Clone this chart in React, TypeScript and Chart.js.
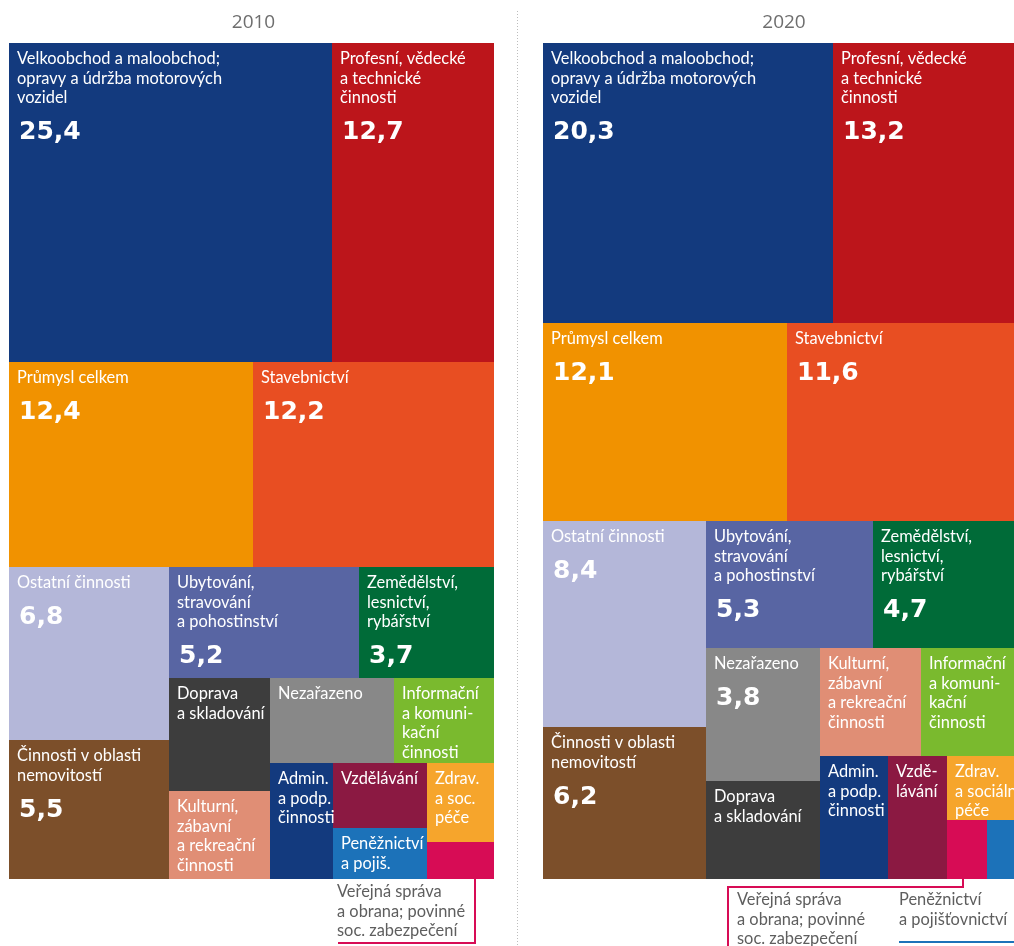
import React, { useEffect, useRef } from "react";
import { Chart, registerables } from "chart.js";
Chart.register(...registerables);

// ---------- DATA ----------
const categories = [
  "Velkoobchod a maloobchod; opravy a údržba motorových vozidel",
  "Profesní, vědecké a technické činnosti",
  "Průmysl celkem",
  "Stavebnictví",
  "Ostatní činnosti",
  "Činnosti v oblasti nemovitostí",
  "Ubytování, stravování a pohostinství",
  "Zemědělství, lesnictví, rybářství",
  "Doprava a skladování",
  "Nezařazeno",
  "Informační a komunikační činnosti",
  "Kulturní, zábavní a rekreační činnosti",
  "Administrativní a podpůrné činnosti",
  "Vzdělávání",
  "Zdravotní a sociální péče",
  "Peněžnictví a pojišťovnictví",
  "Veřejná správa a obrana; povinné sociální zabezpečení",
];

const years = ["2010", "2020"];

const values2010 = [25.4, 12.7, 12.4, 12.2, 6.8, 5.5, 5.2, 3.7, 2.8, 2.6, 2.1, 2.2, 1.8, 1.5, 1.3, 1.2, 0.6];
const values2020 = [20.3, 13.2, 12.1, 11.6, 8.4, 6.2, 5.3, 4.7, 2.8, 3.8, 2.7, 2.7, 2.1, 1.8, 1.2, 0.5, 0.6];

const colors = [
  "#133a7e", "#bc151b", "#f19200", "#e84e22", "#b4b7d9", "#7c4f2a",
  "#5865a3", "#006b38", "#3d3d3d", "#888888", "#7aba2e", "#e08e75",
  "#133a7e", "#8b1942", "#f6a52c", "#1c72b9", "#d70c55",
];

const labels2010 = [
  "Velkoobchod a maloobchod;\nopravy a údržba motorových\nvozidel",
  "Profesní, vědecké\na technické\nčinnosti",
  "Průmysl celkem",
  "Stavebnictví",
  "Ostatní činnosti",
  "Činnosti v oblasti\nnemovitostí",
  "Ubytování,\nstravování\na pohostinství",
  "Zemědělství,\nlesnictví,\nrybářství",
  "Doprava\na skladování",
  "Nezařazeno",
  "Informační\na komuni-\nkační\nčinnosti",
  "Kulturní,\nzábavní\na rekreační\nčinnosti",
  "Admin.\na podp.\nčinnosti",
  "Vzdělávání",
  "Zdrav.\na soc.\npéče",
  "Peněžnictví\na pojiš.",
  "",
];

const labels2020 = [
  "Velkoobchod a maloobchod;\nopravy a údržba motorových\nvozidel",
  "Profesní, vědecké\na technické\nčinnosti",
  "Průmysl celkem",
  "Stavebnictví",
  "Ostatní činnosti",
  "Činnosti v oblasti\nnemovitostí",
  "Ubytování,\nstravování\na pohostinství",
  "Zemědělství,\nlesnictví,\nrybářství",
  "Doprava\na skladování",
  "Nezařazeno",
  "Informační\na komuni-\nkační\nčinnosti",
  "Kulturní,\nzábavní\na rekreační\nčinnosti",
  "Admin.\na podp.\nčinnosti",
  "Vzdě-\nlávání",
  "Zdrav.\na sociální\npéče",
  "",
  "",
];

const calloutText2010 = ["Veřejná správa\na obrana; povinné\nsoc. zabezpečení"];
const calloutText2020 = ["Veřejná správa\na obrana; povinné\nsoc. zabezpečení", "Peněžnictví\na pojišťovnictví"];

const VALUE_LABEL_MIN = 3.5;

// ---------- LAYOUT TREE (split structure, sizes come from values) ----------
type Tree = number | { dir: "h" | "v"; children: Tree[] };
const H = (...children: Tree[]): Tree => ({ dir: "h", children });
const V = (...children: Tree[]): Tree => ({ dir: "v", children });

const tree2010 = V(
  H(0, 1),
  H(2, 3),
  H(V(4, 5), V(H(6, 7), H(V(8, 11), V(H(9, 10), H(12, V(13, 15), V(14, 16))))))
);
const tree2020 = V(
  H(0, 1),
  H(2, 3),
  H(V(4, 5), V(H(6, 7), H(V(9, 8), V(H(11, 10), H(12, 13, V(14, H(16, 15)))))))
);

function sumTree(t: Tree, values: number[]): number {
  return typeof t === "number" ? values[t] : t.children.reduce((s, c) => s + sumTree(c, values), 0);
}

type R = { x: number; y: number; w: number; h: number };
function layoutTree(t: Tree, values: number[], x: number, y: number, w: number, h: number, out: R[]) {
  if (typeof t === "number") {
    out[t] = { x, y, w, h };
    return;
  }
  const total = sumTree(t, values);
  let off = 0;
  for (const c of t.children) {
    const f = sumTree(c, values) / total;
    if (t.dir === "h") layoutTree(c, values, x + off * w, y, f * w, h, out);
    else layoutTree(c, values, x, y + off * h, w, f * h, out);
    off += f;
  }
}

// ---------- STYLE ----------
const LABEL_FONT = '16.4px Lato, "Noto Sans", sans-serif';
const VALUE_FONT = 'bold 25px "DejaVu Sans", Verdana, sans-serif';
const TITLE_FONT = '19px "Open Sans", "Noto Sans", sans-serif';
const CALLOUT_COLOR = "#5e5e5e";

type Callout = {
  cell: number;
  text: string;
  kind: "elbow" | "elbowDown" | "underline";
  anchorDx: number;
  textX: number;
  baseY: number;
  lineY: number;
  endX: number;
  color: string;
};

function makePlugin(cfg: {
  title: string;
  tree: Tree;
  values: number[];
  labels: string[];
  callouts: Callout[];
  separator: boolean;
}) {
  return {
    id: "treemapCells",
    afterDatasetsDraw(chart: any) {
      const { ctx, chartArea } = chart;
      const xs = chart.scales.x;
      const ys = chart.scales.y;
      const rects: R[] = [];
      layoutTree(cfg.tree, cfg.values, xs.min, ys.min, xs.max - xs.min, ys.max - ys.min, rects);
      const px = rects.map((r) => ({
        x0: Math.round(xs.getPixelForValue(r.x)),
        x1: Math.round(xs.getPixelForValue(r.x + r.w)),
        y0: Math.round(ys.getPixelForValue(r.y)),
        y1: Math.round(ys.getPixelForValue(r.y + r.h)),
      }));
      ctx.save();
      // title
      ctx.fillStyle = "#6e6e6e";
      ctx.font = TITLE_FONT;
      ctx.textAlign = "center";
      ctx.textBaseline = "alphabetic";
      ctx.fillText(cfg.title, (chartArea.left + chartArea.right) / 2 + 2, chartArea.top - 15);
      // cells
      px.forEach((p, i) => {
        ctx.fillStyle = colors[i];
        ctx.fillRect(p.x0, p.y0, p.x1 - p.x0, p.y1 - p.y0);
      });
      ctx.fillStyle = "#ffffff";
      ctx.textAlign = "left";
      px.forEach((p, i) => {
        const lab = cfg.labels[i];
        let by = p.y0 + 21;
        if (lab) {
          ctx.font = LABEL_FONT;
          const lines = lab.split("\n");
          lines.forEach((ln, k) => ctx.fillText(ln, p.x0 + 8, p.y0 + 21 + k * 19.5));
          by = p.y0 + 21 + (lines.length - 1) * 19.5;
        }
        if (cfg.values[i] >= VALUE_LABEL_MIN) {
          ctx.font = VALUE_FONT;
          ctx.fillText(cfg.values[i].toFixed(1).replace(".", ","), p.x0 + 10, by + 36);
        }
      });
      // callouts
      cfg.callouts.forEach((c) => {
        const p = px[c.cell];
        const ax = Math.round((p.x0 + p.x1) / 2 + c.anchorDx);
        const ly = chartArea.bottom + c.lineY;
        const ex = chartArea.left + c.endX;
        ctx.strokeStyle = c.color;
        ctx.lineWidth = 2;
        ctx.setLineDash([]);
        ctx.beginPath();
        if (c.kind === "elbow") {
          ctx.moveTo(ax, p.y1);
          ctx.lineTo(ax, ly);
          ctx.lineTo(ex, ly);
        } else if (c.kind === "elbowDown") {
          ctx.moveTo(ax, p.y1);
          ctx.lineTo(ax, ly);
          ctx.lineTo(ex, ly);
          ctx.lineTo(ex, chart.height + 2);
        } else {
          ctx.moveTo(chartArea.left + c.textX, ly);
          ctx.lineTo(p.x1, ly);
        }
        ctx.stroke();
        ctx.fillStyle = CALLOUT_COLOR;
        ctx.font = LABEL_FONT;
        c.text.split("\n").forEach((ln, k) =>
          ctx.fillText(ln, chartArea.left + c.textX, chartArea.bottom + c.baseY + k * 19.5)
        );
      });
      if (cfg.separator) {
        ctx.strokeStyle = "#bdbdbd";
        ctx.lineWidth = 1;
        ctx.setLineDash([1, 2]);
        ctx.beginPath();
        ctx.moveTo(0.5, 11);
        ctx.lineTo(0.5, chart.height);
        ctx.stroke();
      }
      ctx.restore();
    },
  };
}

function Panel(props: {
  title: string;
  values: number[];
  labels: string[];
  tree: Tree;
  callouts: Callout[];
  left: number;
  width: number;
  padLeft: number;
  padRight: number;
  separator: boolean;
}) {
  const ref = useRef<HTMLCanvasElement | null>(null);
  useEffect(() => {
    if (!ref.current) return;
    const chart = new Chart(ref.current, {
      type: "scatter",
      data: { datasets: [{ data: [] }] },
      options: {
        responsive: false,
        animation: false,
        devicePixelRatio: 1,
        events: [],
        layout: { padding: { left: props.padLeft, right: props.padRight, top: 43, bottom: 67 } },
        scales: {
          x: { type: "linear", min: 0, max: 100, display: false },
          y: { type: "linear", min: 0, max: 100, reverse: true, display: false },
        },
        plugins: {
          legend: { display: false },
          tooltip: { enabled: false },
          title: { display: false },
        },
      } as any,
      plugins: [
        makePlugin({
          title: props.title,
          tree: props.tree,
          values: props.values,
          labels: props.labels,
          callouts: props.callouts,
          separator: props.separator,
        }),
      ],
    });
    return () => chart.destroy();
  }, []);
  return (
    <canvas
      ref={ref}
      width={props.width}
      height={946}
      style={{ position: "absolute", left: props.left, top: 0, width: props.width, height: 946 }}
    />
  );
}

export default function App() {
  const callouts2010: Callout[] = [
    { cell: 16, text: calloutText2010[0], kind: "elbow", anchorDx: 14, textX: 328, baseY: 18, lineY: 64, endX: 329, color: colors[16] },
  ];
  const callouts2020: Callout[] = [
    { cell: 16, text: calloutText2020[0], kind: "elbowDown", anchorDx: -4, textX: 194, baseY: 26, lineY: 8, endX: 185, color: colors[16] },
    { cell: 15, text: calloutText2020[1], kind: "underline", anchorDx: 0, textX: 356, baseY: 26, lineY: 63, endX: 0, color: colors[15] },
  ];
  return (
    <div style={{ position: "fixed", left: 0, top: 0, width: 1014, height: 946, overflow: "hidden", background: "#fff" }}>
      <Panel
        title={years[0]}
        values={values2010}
        labels={labels2010}
        tree={tree2010}
        callouts={callouts2010}
        left={0}
        width={517}
        padLeft={9}
        padRight={23}
        separator={false}
      />
      <Panel
        title={years[1]}
        values={values2020}
        labels={labels2020}
        tree={tree2020}
        callouts={callouts2020}
        left={517}
        width={514}
        padLeft={26}
        padRight={10}
        separator={true}
      />
    </div>
  );
}
